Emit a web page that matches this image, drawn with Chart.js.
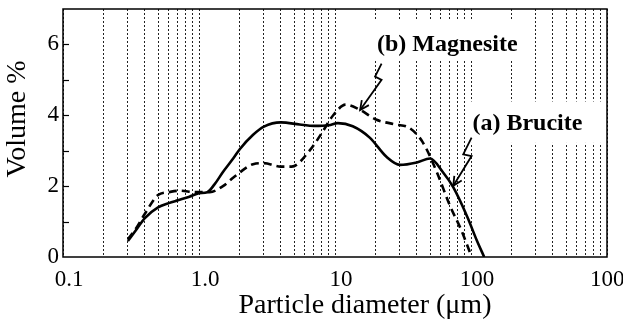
<!DOCTYPE html>
<html>
<head>
<meta charset="utf-8">
<script src="https://cdn.jsdelivr.net/npm/chart.js@4/dist/chart.umd.min.js"></script>
<style>
  html, body { margin: 0; padding: 0; background: #fff; overflow: hidden; }
  #wrap { width: 623px; height: 324px; }
</style>
</head>
<body>
<div id="wrap"><canvas id="c" width="623" height="324"></canvas></div>
<script>
// ---- data ----
const brDiam = [0.3, 0.35, 0.4, 0.5, 0.6, 0.7, 0.85, 1.0, 1.15, 1.3, 1.5, 1.8, 2, 2.5, 3, 4, 5.5, 7, 9, 10.5, 13.5, 18, 24, 30, 40, 50, 62, 74, 94, 110, 125];
const brVol  = [0.45, 0.8, 1.1, 1.4, 1.52, 1.6, 1.7, 1.8, 1.83, 2.05, 2.4, 2.8, 3.05, 3.45, 3.68, 3.8, 3.74, 3.7, 3.72, 3.78, 3.69, 3.37, 2.82, 2.6, 2.67, 2.78, 2.4, 1.97, 1.13, 0.48, 0];
const mgDiam = [0.3, 0.35, 0.4, 0.5, 0.6, 0.72, 0.95, 1.2, 1.5, 1.8, 2.5, 3, 4, 4.8, 6.5, 8, 9.7, 12, 15, 20, 28, 35, 44, 56, 70, 85, 100];
const mgVol  = [0.5, 0.85, 1.22, 1.75, 1.83, 1.87, 1.83, 1.83, 2.0, 2.25, 2.62, 2.65, 2.55, 2.55, 3.0, 3.5, 4.0, 4.3, 4.17, 3.88, 3.74, 3.65, 3.25, 2.4, 1.45, 0.75, 0.05];
const seriesNames = ['(a) Brucite', '(b) Magnesite'];
const xTickVals   = [0.1, 1, 10, 100, 1000];
const xTickLabels = ['0.1', '1.0', '10', '100', '1000'];
const yTickLabelVals = [0, 2, 4, 6];
const xTitle = 'Particle diameter (\u03bcm)';
const yTitle = 'Volume %';

// grid line values (1..9 per decade)
const gridVals = [];
for (let d = -1; d <= 2; d++) for (let m = 1; m <= 9; m++) gridVals.push(+(m * Math.pow(10, d)).toPrecision(3));
gridVals.push(1000);

// annotation labels (data coordinates) and bolt arrows
const notes = [
  { text: seriesNames[1], at: [67, 5.99], box: [18.1, 249, 6.69, 5.57],
    bolt: [[22.0, 5.46], [19.7, 5.09], [22.0, 5.0], [15.3, 4.15]] },
  { text: seriesNames[0], at: [260, 3.76], box: [95, 950, 4.39, 3.22],
    bolt: [[101, 3.37], [87.7, 2.9], [101, 2.85], [74.1, 2.01]] }
];

const SERIF = '"Liberation Serif", "DejaVu Serif", serif';

const decor = {
  id: 'decor',
  beforeDatasetsDraw(chart) {
    const { ctx, scales: { x, y } } = chart;
    ctx.save();
    ctx.fillStyle = '#fff';
    notes.forEach(n => {
      const x0 = x.getPixelForValue(n.box[0]), x1 = x.getPixelForValue(n.box[1]);
      const y0 = y.getPixelForValue(n.box[2]), y1 = y.getPixelForValue(n.box[3]);
      ctx.fillRect(x0, y0, x1 - x0, y1 - y0);
    });
    ctx.restore();
  },
  afterDraw(chart) {
    const { ctx, chartArea: a, scales: { x, y } } = chart;
    ctx.save();
    // frame
    ctx.strokeStyle = '#000';
    ctx.lineWidth = 1.5;
    ctx.strokeRect(a.left, a.top, a.right - a.left, a.bottom - a.top);
    // inward y ticks
    ctx.lineWidth = 1.2;
    for (let v = 1; v <= 6; v++) {
      const py = Math.round(y.getPixelForValue(v)) + 0.5;
      ctx.beginPath(); ctx.moveTo(a.left, py); ctx.lineTo(a.left + 6, py); ctx.stroke();
    }
    // annotation labels
    ctx.fillStyle = '#000';
    ctx.font = 'bold 24px ' + SERIF;
    ctx.textAlign = 'center';
    ctx.textBaseline = 'middle';
    notes.forEach(n => {
      ctx.fillText(n.text, x.getPixelForValue(n.at[0]), y.getPixelForValue(n.at[1]));
    });
    // bolt arrows
    ctx.lineWidth = 1.8;
    ctx.lineJoin = 'miter';
    notes.forEach(n => {
      const pts = n.bolt.map(p => [x.getPixelForValue(p[0]), y.getPixelForValue(p[1])]);
      ctx.beginPath();
      ctx.moveTo(pts[0][0], pts[0][1]);
      for (let i = 1; i < pts.length; i++) ctx.lineTo(pts[i][0], pts[i][1]);
      ctx.stroke();
      const [px, py] = pts[pts.length - 1];
      const [qx, qy] = pts[pts.length - 2];
      const ang = Math.atan2(py - qy, px - qx);
      const L = 10, w = 0.45;
      ctx.beginPath();
      ctx.moveTo(px - L * Math.cos(ang - w), py - L * Math.sin(ang - w));
      ctx.lineTo(px, py);
      ctx.lineTo(px - L * Math.cos(ang + w), py - L * Math.sin(ang + w));
      ctx.stroke();
    });
    // axis titles
    ctx.font = '28px ' + SERIF;
    ctx.textBaseline = 'middle';
    ctx.fillText(xTitle, 365, 306);
    ctx.translate(18, 119);
    ctx.rotate(-Math.PI / 2);
    ctx.fillText(yTitle, 0, 0);
    ctx.restore();
  }
};

new Chart(document.getElementById('c'), {
  type: 'line',
  data: {
    datasets: [
      { label: seriesNames[0], data: brDiam.map((d, i) => ({ x: d, y: brVol[i] })),
        borderColor: '#000', borderWidth: 2.6, pointRadius: 0, fill: false,
        cubicInterpolationMode: 'monotone' },
      { label: seriesNames[1], data: mgDiam.map((d, i) => ({ x: d, y: mgVol[i] })),
        borderColor: '#000', borderWidth: 2.6, borderDash: [8, 5], pointRadius: 0, fill: false,
        cubicInterpolationMode: 'monotone' }
    ]
  },
  options: {
    responsive: false,
    animation: false,
    devicePixelRatio: 1,
    layout: { padding: { top: 9, right: 16, left: 0, bottom: 0 } },
    plugins: { legend: { display: false }, tooltip: { enabled: false } },
    scales: {
      x: {
        type: 'logarithmic', min: 0.1, max: 1000,
        afterBuildTicks: s => { s.ticks = gridVals.map(v => ({ value: v })); },
        afterFit: s => { s.height = 67; s.paddingLeft = 0; s.paddingRight = 0; },
        grid: { color: '#222', lineWidth: 1, drawTicks: false },
        border: { display: false, dash: [2, 2] },
        ticks: {
          autoSkip: false, maxRotation: 0, padding: 9, labelOffset: 6, color: '#000',
          font: { family: SERIF, size: 23 },
          callback: v => { const i = xTickVals.findIndex(t => Math.abs(t - v) / t < 1e-6); return i >= 0 ? xTickLabels[i] : ''; }
        }
      },
      y: {
        min: 0, max: 7,
        afterFit: s => { s.width = 63; s.paddingTop = 0; s.paddingBottom = 0; },
        grid: { display: false, drawTicks: false },
        border: { display: false },
        ticks: {
          stepSize: 1, padding: 4, color: '#000',
          font: { family: SERIF, size: 23 },
          callback: v => yTickLabelVals.includes(v) ? String(v) : ''
        }
      }
    }
  },
  plugins: [decor]
});
</script>
</body>
</html>
